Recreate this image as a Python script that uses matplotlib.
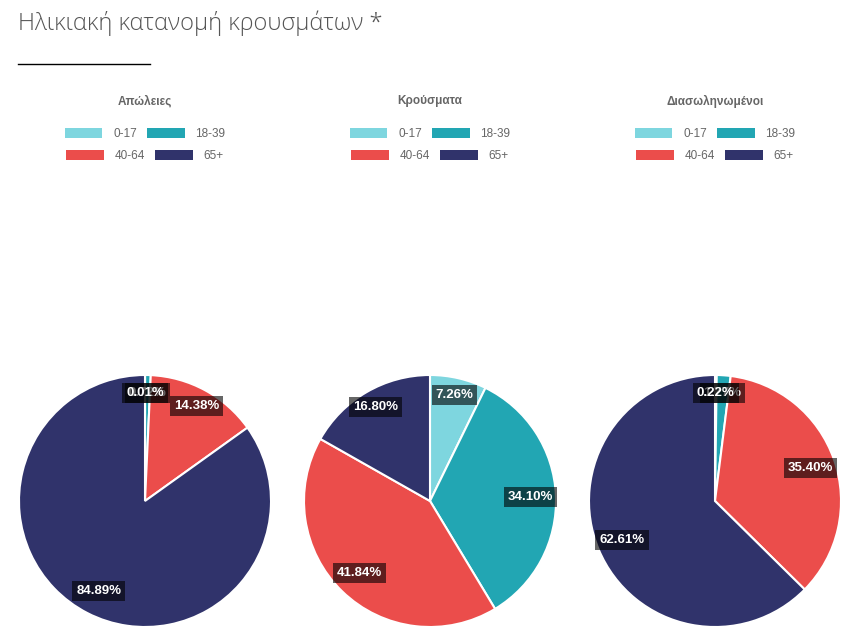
import matplotlib
matplotlib.use("Agg")
import matplotlib.pyplot as plt
from matplotlib.patches import Patch
import numpy as np

plt.rcParams["font.family"] = ["Liberation Sans", "DejaVu Sans"]

age_groups = ["0-17", "18-39", "40-64", "65+"]
colors = ["#7ed6df", "#22a6b3", "#eb4d4b", "#30336b"]

chart_titles = ["Απώλειες", "Κρούσματα", "Διασωληνωμένοι"]
deaths = [0.01, 0.72, 14.38, 84.89]
cases = [7.26, 34.10, 41.84, 16.80]
intubated = [0.22, 1.77, 35.40, 62.61]
all_values = [deaths, cases, intubated]

W, H = 846, 636
fig = plt.figure(figsize=(W / 100, H / 100), dpi=100)

fig.text(18 / W, 1 - 23 / H, "Ηλικιακή κατανομή κρουσμάτων *", fontsize=17,
         family=["Open Sans", "DejaVu Sans"], fontweight="light", color="#555555",
         va="center", ha="left")
fig.add_artist(plt.Line2D([18 / W, 150 / W], [1 - 64 / H, 1 - 64 / H], color="black", lw=1))

centers_x = [145, 430, 715]
cy, r = 501, 126

for cx, title, vals in zip(centers_x, chart_titles, all_values):
    ax = fig.add_axes([(cx - r) / W, 1 - (cy + r) / H, 2 * r / W, 2 * r / H])
    wedges, _ = ax.pie(vals, colors=colors, startangle=90, counterclock=False,
                       wedgeprops=dict(edgecolor="white", linewidth=1.5))
    ax.set_xlim(-1, 1)
    ax.set_ylim(-1, 1)
    ax.set_aspect("equal")
    ax.axis("off")

    # labels: the first slice's label ends up on top, as in the original
    total = sum(vals)
    start = 0
    for k, v in enumerate(vals):
        mid = (start + v / 2) / total * 2 * np.pi
        start += v
        rad = 0.86 if v < 20 and (mid < 0.9 or mid > 5.4) else 0.8
        x = rad * np.sin(mid)
        y = rad * np.cos(mid)
        ax.text(x, y, f"{v:.2f}%", color="white", fontsize=9.5, fontweight="bold",
                ha="center", va="center", zorder=10 - k,
                bbox=dict(boxstyle="square,pad=0.3", facecolor=(0, 0, 0, 0.6), edgecolor="none"))

    fig.text(cx / W, 1 - 101 / H, title, fontsize=8.5, fontweight="bold",
             color="#666666", ha="center", va="center")
    for row, ypx in zip([(0, 1), (2, 3)], [134, 156]):
        handles = [Patch(facecolor=colors[i], edgecolor="none") for i in row]
        labels = [age_groups[i] for i in row]
        leg = fig.legend(handles, labels, ncol=2, loc="center",
                         bbox_to_anchor=(cx / W, 1 - ypx / H), frameon=False,
                         fontsize=8.5, labelcolor="#666666", handlelength=3.2,
                         handleheight=0.85, handletextpad=0.9, columnspacing=0.85,
                         borderpad=0, borderaxespad=0)

fig.savefig("out.png", dpi=100, facecolor="white")
